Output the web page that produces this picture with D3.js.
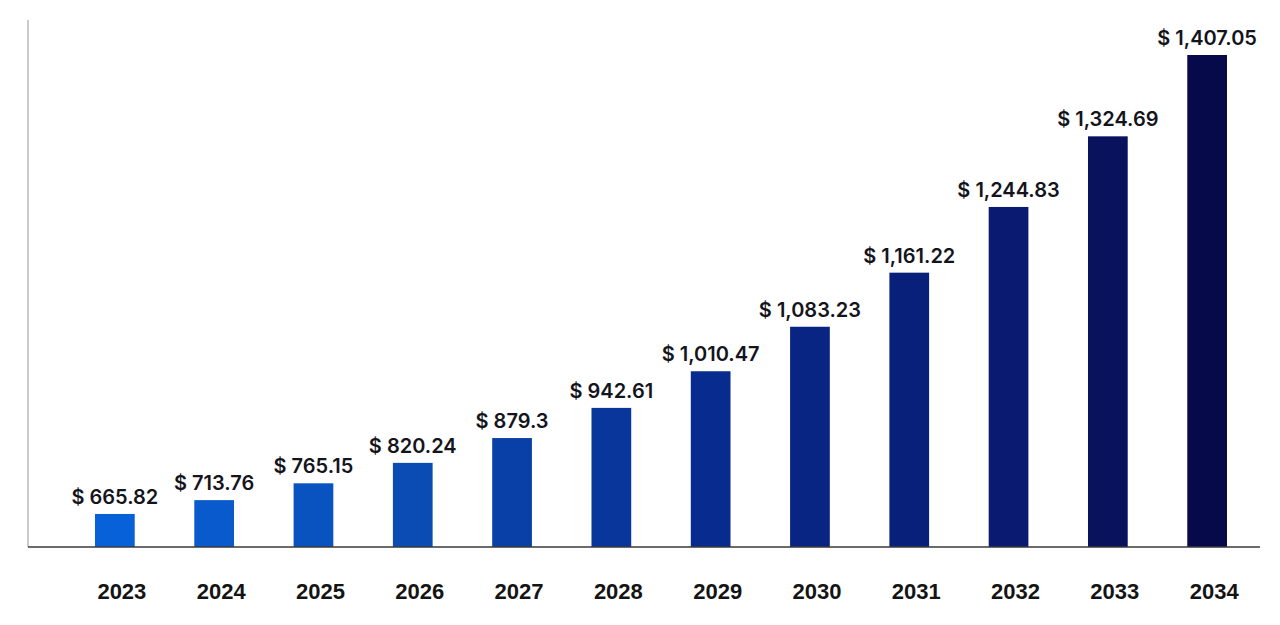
<!DOCTYPE html>
<html>

<head>
    <meta charset="utf-8">
    <title>Market size 2023-2034</title>
    <script src="https://cdn.jsdelivr.net/npm/d3@7/dist/d3.min.js"></script>
    <style>
        html, body { margin: 0; padding: 0; background: #ffffff; }
        svg { display: block; }
    </style>
</head>

<body>
    <script>
    // data
    var years = ['2023', '2024', '2025', '2026', '2027', '2028', '2029', '2030', '2031', '2032', '2033', '2034'];
    var values = [665.82, 713.76, 765.15, 820.24, 879.3, 942.61, 1010.47, 1083.23, 1161.22, 1244.83, 1324.69, 1407.05];

    var width = 1280;
    var height = 625;
    var axisLeft = 28;     // vertical axis line x
    var axisRight = 1260;  // end of baseline
    var baseY = 547;       // baseline y
    var topY = 55;         // top of the highest bar

    var svg = d3.select('body').append('svg')
        .attr('width', width)
        .attr('height', height);

    /* scales */
    var x = d3.scaleBand()
        .domain(years)
        .range([95, 1227])
        .paddingInner(0.6)
        .paddingOuter(0);

    // bars in the picture grow faster than linear, so a power scale
    var y = d3.scalePow()
        .exponent(2.8)
        .domain([515, d3.max(values)])
        .range([baseY, topY]);

    // blue -> navy along the years
    var color = d3.scaleLinear()
        .domain([0, 3, 6, 9, 11])
        .range(['#0762d9', '#0a4bb4', '#072b8e', '#0a1a70', '#060a4a'])
        .interpolate(d3.interpolateRgb);

    /* axis lines */
    svg.append('line')
        .attr('x1', axisLeft).attr('x2', axisLeft)
        .attr('y1', 20).attr('y2', baseY)
        .attr('stroke', '#b8b8b8')
        .attr('stroke-width', 1.5);

    /* bars */
    svg.selectAll('rect.bar')
        .data(values)
        .enter()
        .append('rect')
        .attr('class', 'bar')
        .attr('x', function(d, i) { return x(years[i]); })
        .attr('y', function(d) { return y(d); })
        .attr('width', x.bandwidth())
        .attr('height', function(d) { return baseY - y(d); })
        .attr('fill', function(d, i) { return color(i); });

    svg.append('line')
        .attr('x1', axisLeft).attr('x2', axisRight)
        .attr('y1', baseY).attr('y2', baseY)
        .attr('stroke', '#3a3a3a')
        .attr('stroke-width', 1.5);

    /* value labels */
    var fmt = d3.format(',');
    svg.selectAll('text.value')
        .data(values)
        .enter()
        .append('text')
        .attr('class', 'value')
        .attr('x', function(d, i) { return x(years[i]) + x.bandwidth() / 2; })
        .attr('y', function(d) { return y(d) - 10; })
        .attr('text-anchor', 'middle')
        .attr('font-family', 'Inter, Roboto, sans-serif')
        .attr('font-weight', 600)
        .attr('font-size', '20px')
        .attr('fill', '#14141c')
        .text(function(d) { return '$ ' + fmt(d); });

    /* year labels */
    var xAxis = d3.axisBottom(x).tickSize(0).tickPadding(0);
    var gx = svg.append('g')
        .attr('transform', 'translate(7,' + 599 + ')')
        .call(xAxis);
    gx.select('.domain').remove();
    gx.selectAll('text')
        .attr('dy', 0)
        .attr('font-family', '"Liberation Sans", Arial, sans-serif')
        .attr('font-weight', 'bold')
        .attr('font-size', '22px')
        .attr('fill', '#141414');
    </script>
</body>

</html>
